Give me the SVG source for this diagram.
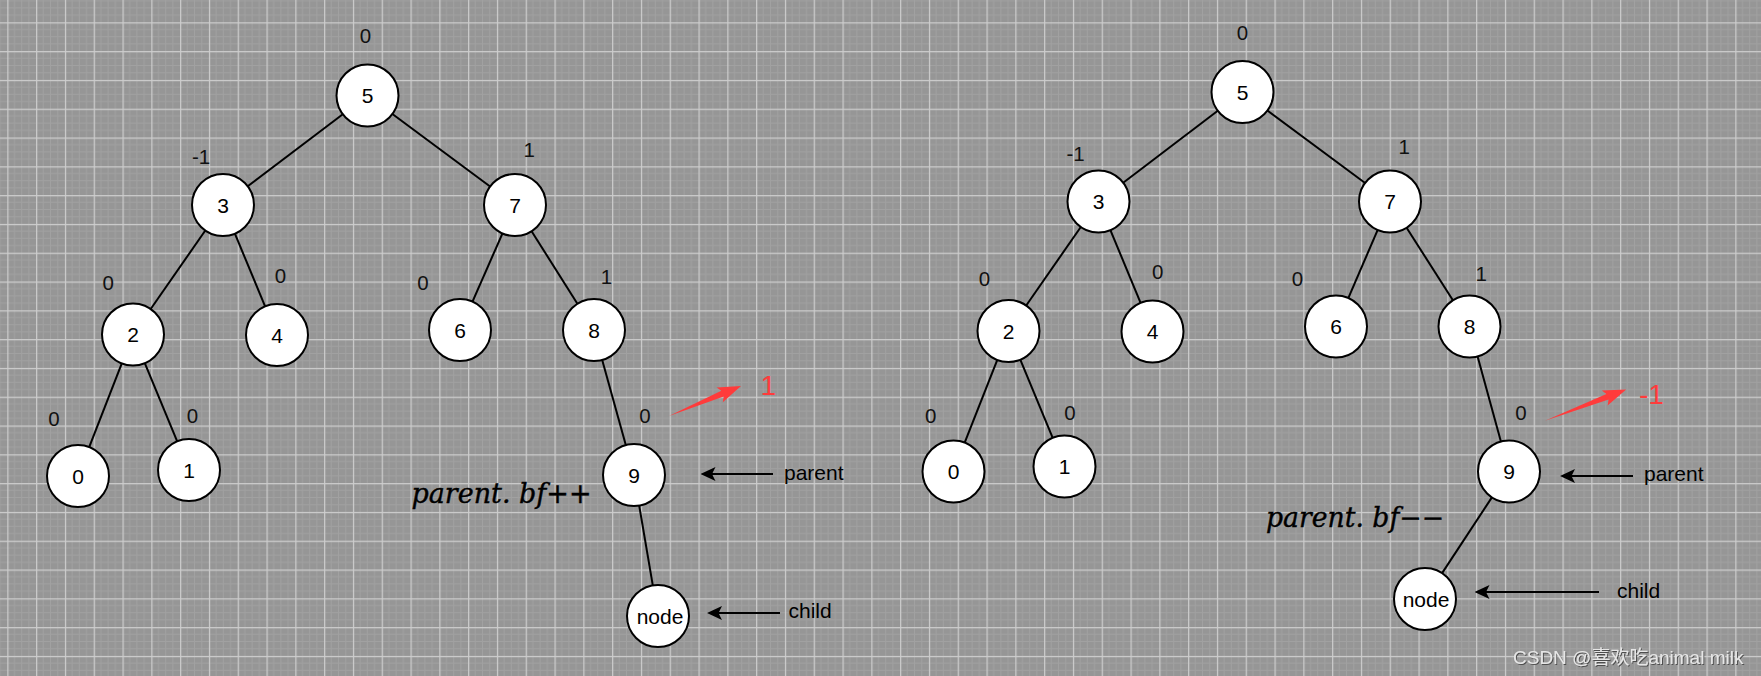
<svg xmlns="http://www.w3.org/2000/svg" width="1761" height="676" viewBox="0 0 1761 676">
<defs>
<pattern id="grid" patternUnits="userSpaceOnUse" x="7.3" y="22.3" width="28.8" height="28.8">
<rect width="28.8" height="28.8" fill="#969696"/>
<path d="M7.2 0V28.8M14.4 0V28.8M21.6 0V28.8M0 7.2H28.8M0 14.4H28.8M0 21.6H28.8" stroke="#a1a1a1" stroke-width="1" fill="none"/>
<path d="M0.6 0V28.8M0 0.6H28.8" stroke="#cecece" stroke-width="1.2" fill="none"/>
</pattern>
<marker id="ah" markerUnits="userSpaceOnUse" viewBox="0 0 15 14" refX="4" refY="7" markerWidth="15" markerHeight="14" orient="auto">
<path d="M0,0 L15,7 L0,14 L3.5,7 z" fill="#000"/>
</marker>
<filter id="sh" x="-5%" y="-30%" width="110%" height="160%">
<feDropShadow dx="1" dy="1" stdDeviation="0.6" flood-color="#444" flood-opacity="0.9"/>
</filter>
<style>
.n circle{fill:#fff;stroke:#000;stroke-width:2}
.n text{font-family:"Liberation Sans",Arial,sans-serif;font-size:21px;fill:#000;text-anchor:middle}
.e line{stroke:#000;stroke-width:2}
.bf{font-family:"Liberation Sans",Arial,sans-serif;font-size:20.5px;fill:#111;text-anchor:middle}
.lbl{font-family:"Liberation Sans",Arial,sans-serif;font-size:21px;fill:#000}
.red{font-family:"Liberation Sans",Arial,sans-serif;font-size:28px;fill:#ff3b3b}
.math{font-family:"DejaVu Serif","Liberation Serif",serif;font-style:italic;font-size:27px;fill:#000;stroke:#000;stroke-width:0.4}
.ar{stroke:#000;stroke-width:2;marker-end:url(#ah)}
</style>
</defs>
<rect width="1761" height="676" fill="url(#grid)"/>

<g id="connectors" class="e">
<line x1="342.8" y1="114.2" x2="247.7" y2="186.3"/>
<line x1="392.4" y1="114" x2="490.1" y2="186.5"/>
<line x1="205.3" y1="230.5" x2="150.7" y2="309"/>
<line x1="234.9" y1="233.6" x2="265.1" y2="306.4"/>
<line x1="121.8" y1="363.4" x2="89.2" y2="447.1"/>
<line x1="144.8" y1="363.2" x2="177.2" y2="441.3"/>
<line x1="502.5" y1="233.4" x2="472.5" y2="301.6"/>
<line x1="531.6" y1="231.2" x2="577.4" y2="303.8"/>
<line x1="602.2" y1="359.9" x2="625.8" y2="445.1"/>
<line x1="639.2" y1="505.6" x2="652.8" y2="585.4"/>

<line x1="1217.8" y1="110.7" x2="1123.2" y2="182.8"/>
<line x1="1267.4" y1="110.5" x2="1365.1" y2="183"/>
<line x1="1080.8" y1="227" x2="1026.2" y2="305.5"/>
<line x1="1110.4" y1="230.1" x2="1140.6" y2="302.9"/>
<line x1="997.3" y1="359.9" x2="964.7" y2="442.6"/>
<line x1="1020.3" y1="359.7" x2="1052.7" y2="437.8"/>
<line x1="1377.7" y1="229.9" x2="1348.3" y2="298.1"/>
<line x1="1406.6" y1="227.7" x2="1452.9" y2="300.3"/>
<line x1="1477.6" y1="356.4" x2="1500.9" y2="441.6"/>
<line x1="1491.9" y1="497.4" x2="1442.1" y2="573.1"/>

<line class="ar" x1="773" y1="474" x2="711.5" y2="474"/>
<line class="ar" x1="780" y1="613" x2="718" y2="613"/>
<line class="ar" x1="1633" y1="476" x2="1571" y2="476"/>
<line class="ar" x1="1599" y1="592" x2="1485.5" y2="592"/>

<polygon points="669,416 723.7,396.4 722.8,402.2 741,386 716.6,387.4 721.3,390.8" fill="#ff3b3b"/>
<polygon points="1545,420.7 1608.6,399.6 1607.6,405.4 1626.2,389.6 1601.8,390.4 1606.4,394" fill="#ff3b3b"/>
</g>

<g id="L5" class="n"><circle cx="367.5" cy="95.5" r="31"/><text x="367.5" y="103">5</text></g>
<g id="L3" class="n"><circle cx="223" cy="205" r="31"/><text x="223" y="212.5">3</text></g>
<g id="L7" class="n"><circle cx="515" cy="205" r="31"/><text x="515" y="212.5">7</text></g>
<g id="L2" class="n"><circle cx="133" cy="334.5" r="31"/><text x="133" y="342">2</text></g>
<g id="L4" class="n"><circle cx="277" cy="335" r="31"/><text x="277" y="342.5">4</text></g>
<g id="L6" class="n"><circle cx="460" cy="330" r="31"/><text x="460" y="337.5">6</text></g>
<g id="L8" class="n"><circle cx="594" cy="330" r="31"/><text x="594" y="337.5">8</text></g>
<g id="L0" class="n"><circle cx="78" cy="476" r="31"/><text x="78" y="483.5">0</text></g>
<g id="L1" class="n"><circle cx="189" cy="470" r="31"/><text x="189" y="477.5">1</text></g>
<g id="L9" class="n"><circle cx="634" cy="475" r="31"/><text x="634" y="482.5">9</text></g>
<g id="Lnode" class="n"><circle cx="658" cy="616" r="31"/><text x="660" y="623.5">node</text></g>

<g id="R5" class="n"><circle cx="1242.5" cy="92" r="31"/><text x="1242.5" y="99.5">5</text></g>
<g id="R3" class="n"><circle cx="1098.5" cy="201.5" r="31"/><text x="1098.5" y="209">3</text></g>
<g id="R7" class="n"><circle cx="1390" cy="201.5" r="31"/><text x="1390" y="209">7</text></g>
<g id="R2" class="n"><circle cx="1008.5" cy="331" r="31"/><text x="1008.5" y="338.5">2</text></g>
<g id="R4" class="n"><circle cx="1152.5" cy="331.5" r="31"/><text x="1152.5" y="339">4</text></g>
<g id="R6" class="n"><circle cx="1336" cy="326.5" r="31"/><text x="1336" y="334">6</text></g>
<g id="R8" class="n"><circle cx="1469.5" cy="326.5" r="31"/><text x="1469.5" y="334">8</text></g>
<g id="R0" class="n"><circle cx="953.5" cy="471.5" r="31"/><text x="953.5" y="479">0</text></g>
<g id="R1" class="n"><circle cx="1064.5" cy="466.5" r="31"/><text x="1064.5" y="474">1</text></g>
<g id="R9" class="n"><circle cx="1509" cy="471.5" r="31"/><text x="1509" y="479">9</text></g>
<g id="Rnode" class="n"><circle cx="1425" cy="599" r="31"/><text x="1426" y="606.5">node</text></g>

<g id="labels">
<text class="bf" x="365.5" y="43">0</text>
<text class="bf" x="201" y="164">-1</text>
<text class="bf" x="529.3" y="157.3">1</text>
<text class="bf" x="108.3" y="289.6">0</text>
<text class="bf" x="280.5" y="283">0</text>
<text class="bf" x="423" y="289.6">0</text>
<text class="bf" x="606.5" y="283.8">1</text>
<text class="bf" x="54" y="426.3">0</text>
<text class="bf" x="192.5" y="423.3">0</text>
<text class="bf" x="645" y="423.3">0</text>

<text class="bf" x="1242.4" y="39.6">0</text>
<text class="bf" x="1075.5" y="161.3">-1</text>
<text class="bf" x="1404.2" y="154">1</text>
<text class="bf" x="984.5" y="286.3">0</text>
<text class="bf" x="1157.6" y="279">0</text>
<text class="bf" x="1297.5" y="286.3">0</text>
<text class="bf" x="1481.2" y="280.6">1</text>
<text class="bf" x="930.6" y="423.3">0</text>
<text class="bf" x="1070" y="419.6">0</text>
<text class="bf" x="1521" y="419.6">0</text>

<text class="red" x="768.3" y="395" text-anchor="middle">1</text>
<text class="red" x="1639" y="403.5">-1</text>

<text class="lbl" x="784" y="480">parent</text>
<text class="lbl" x="788.5" y="618">child</text>
<text class="lbl" x="1644" y="481">parent</text>
<text class="lbl" x="1617" y="597.5">child</text>

<text class="math" x="411.5" y="503" textLength="180" lengthAdjust="spacingAndGlyphs">parent. bf++</text>
<text class="math" x="1266" y="526.7" textLength="178" lengthAdjust="spacingAndGlyphs">parent. bf−−</text>

<text x="1513" y="664" filter="url(#sh)" style="font-family:'Liberation Sans','Noto Sans CJK SC',sans-serif;font-size:19px;fill:#e6e6e6">CSDN @喜欢吃animal milk</text>
</g>
</svg>
